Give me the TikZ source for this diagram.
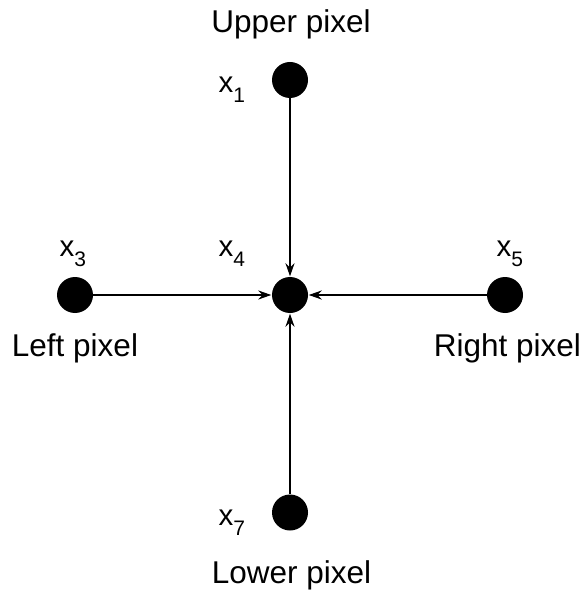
\documentclass[tikz,border=0pt]{standalone}
\usepackage{fontspec}
\setmainfont{Liberation Sans}
\usetikzlibrary{arrows.meta}
\newcommand{\xs}[1]{x\raisebox{-10pt}{\fontsize{21}{21}\selectfont #1}}
\begin{document}
\begin{tikzpicture}[x=1pt,y=-1pt,
  dot/.style={circle,fill=black,draw=none,minimum size=36pt,inner sep=0pt},
  lbl/.style={font=\fontsize{31.5}{31.5}\selectfont,anchor=base,inner sep=0pt},
  xl/.style={font=\fontsize{29.5}{29.5}\selectfont,anchor=base west,inner sep=0pt},
  conn/.style={line width=1.5pt,-{Stealth[length=13pt,width=9pt]},shorten >=0.5pt}]
\useasboundingbox (0,0) rectangle (584,593);
\node[dot] (c) at (290,295) {};
\node[dot] (u) at (290,80) {};
\node[dot] (l) at (75,295) {};
\node[dot] (r) at (505,295) {};
\node[dot] (d) at (290,512.5) {};
\draw[conn] (u) -- (c);
\draw[conn] (l) -- (c);
\draw[conn] (r) -- (c);
\draw[conn] (d) -- (c);
\node[lbl] (tu) at (291,32.5) {Upper pixel};
\node[lbl] (td) at (291.5,583) {Lower pixel};
\node[lbl] (tl) at (75,356) {Left pixel};
\node[lbl] (tr) at (507.5,356) {Right pixel};
\node[xl] (x1) at (218.5,92.5) {\xs{1}};
\node[xl] (x3) at (59.5,256) {\xs{3}};
\node[xl] (x4) at (218.5,256) {\xs{4}};
\node[xl] (x5) at (496.5,256) {\xs{5}};
\node[xl] (x7) at (218.5,525) {\xs{7}};
\end{tikzpicture}
\end{document}
